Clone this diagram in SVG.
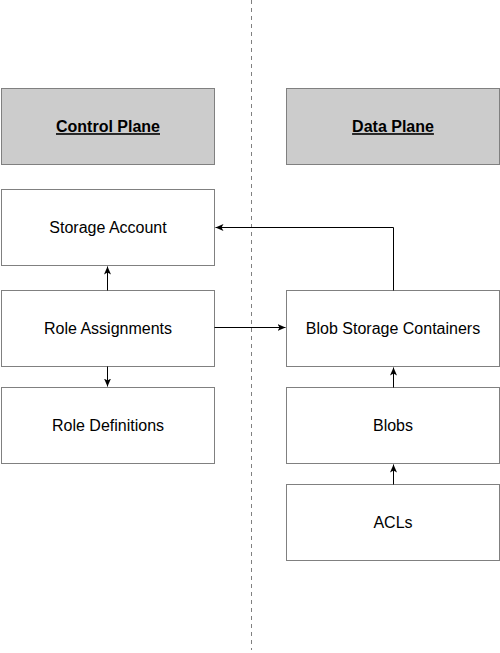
<svg xmlns="http://www.w3.org/2000/svg" width="500" height="653" viewBox="0 0 500 653">
<style>
.box{fill:#ffffff;stroke:#808080;stroke-width:1}
.hdr{fill:#cccccc;stroke:#808080;stroke-width:1}
.lbl{font-family:"Liberation Sans",Arial,sans-serif;font-size:16px;fill:#000000;text-anchor:middle}
.bold{font-weight:bold;text-decoration:underline}
.conn{fill:none;stroke:#000000;stroke-width:1;marker-end:url(#arr)}
</style>
<defs>
<marker id="arr" markerUnits="userSpaceOnUse" markerWidth="10" markerHeight="8" refX="8" refY="3.5" orient="auto">
<path d="M0,0 L8,3.5 L0,7 L2,3.5 Z" fill="#000000"/>
</marker>
</defs>
<rect width="500" height="653" fill="#ffffff"/>
<line id="divider" x1="251.5" y1="0" x2="251.5" y2="650" stroke="#808080" stroke-width="1" stroke-dasharray="4 4"/>
<g id="control-plane"><rect class="hdr" x="1.5" y="88.5" width="213" height="76"/><text class="lbl bold" x="108" y="132.2">Control Plane</text></g>
<g id="data-plane"><rect class="hdr" x="286.5" y="88.5" width="213" height="76"/><text class="lbl bold" x="393" y="132.2">Data Plane</text></g>
<g id="storage-account"><rect class="box" x="1.5" y="189.5" width="213" height="76"/><text class="lbl" x="108" y="233">Storage Account</text></g>
<g id="role-assignments"><rect class="box" x="1.5" y="290.5" width="213" height="76"/><text class="lbl" x="108" y="333.5">Role Assignments</text></g>
<g id="role-definitions"><rect class="box" x="1.5" y="387.5" width="213" height="76"/><text class="lbl" x="108" y="430.5">Role Definitions</text></g>
<g id="blob-storage-containers"><rect class="box" x="286.5" y="290.5" width="213" height="76"/><text class="lbl" x="393" y="333.5">Blob Storage Containers</text></g>
<g id="blobs"><rect class="box" x="286.5" y="387.5" width="213" height="76"/><text class="lbl" x="393" y="430.5">Blobs</text></g>
<g id="acls"><rect class="box" x="286.5" y="484.5" width="213" height="76"/><text class="lbl" x="393" y="527.5">ACLs</text></g>
<g id="connectors">
<path class="conn" d="M107.5 290.5 V266.5"/>
<path class="conn" d="M107.5 366.5 V386.5"/>
<path class="conn" d="M214.5 327.5 H285.5"/>
<path class="conn" d="M393.5 290.5 V227.5 H215.5"/>
<path class="conn" d="M393.5 387.5 V367.5"/>
<path class="conn" d="M393.5 484.5 V464.5"/>
</g>
</svg>
